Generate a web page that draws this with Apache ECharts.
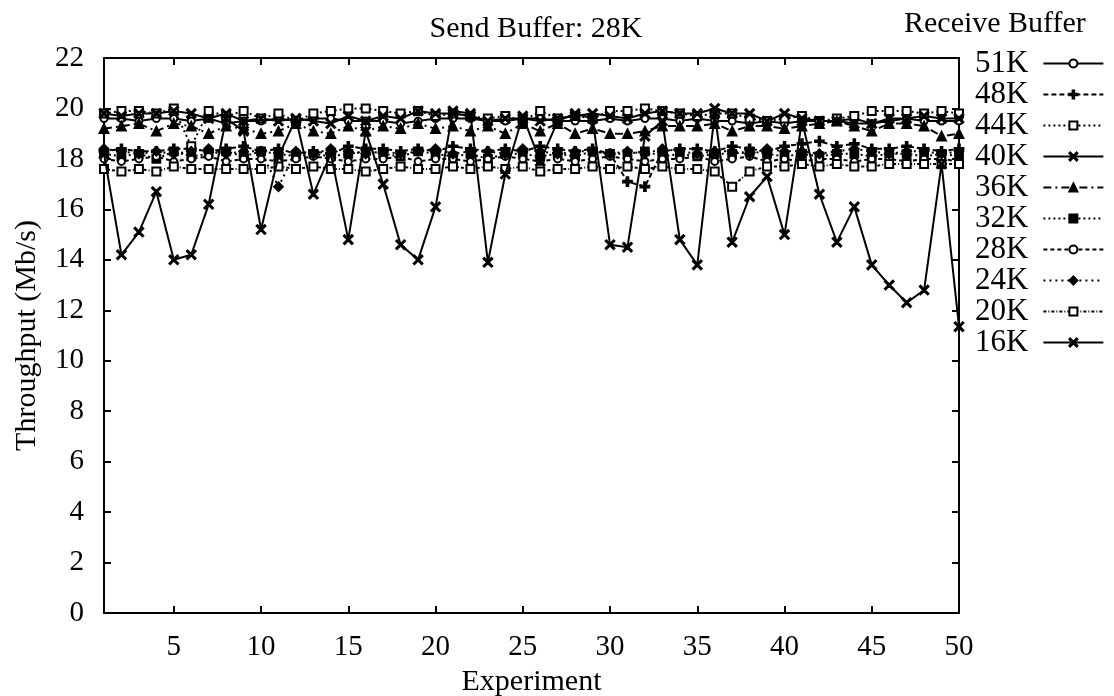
<!DOCTYPE html>
<html>
<head>
<meta charset="utf-8">
<script src="https://cdn.jsdelivr.net/npm/echarts@6/dist/echarts.min.js"></script>
<style>html,body{margin:0;padding:0;background:#fff}#c{width:1114px;height:696px}</style>
</head>
<body>
<div id="c"></div>
<script>
const experiments = Array.from({length: 50}, (_, i) => i + 1);
const xTickLabels = [5, 10, 15, 20, 25, 30, 35, 40, 45, 50];
const seriesNames = ['51K', '48K', '44K', '40K', '36K', '32K', '28K', '24K', '20K', '16K'];

const s51K = [19.6,19.6,19.5,19.6,19.6,19.5,19.6,19.4,19.5,19.5,19.6,19.5,19.6,19.6,19.5,19.5,19.5,19.4,19.5,19.6,19.6,19.6,19.5,19.5,19.6,19.6,19.5,19.5,19.5,19.6,19.5,19.6,19.6,19.5,19.6,19.5,19.5,19.4,19.5,19.4,19.5,19.5,19.5,19.6,19.4,19.5,19.6,19.5,19.5,19.5];
const s48K = [18.3,18.4,18.3,18.3,18.4,18.4,18.3,18.4,18.5,18.3,18.4,18.2,18.3,18.2,18.5,18.4,18.4,18.3,18.4,18.3,18.5,18.4,18.3,18.4,18.3,18.5,18.4,18.3,18.4,18.2,17.1,16.9,18.3,18.4,18.4,18.3,18.5,18.4,18.3,18.5,18.6,18.7,18.5,18.6,18.4,18.4,18.5,18.4,18.3,18.4];
const s44K = [19.8,19.9,19.9,19.8,20.0,18.5,19.9,19.7,19.9,19.6,19.8,19.5,19.8,19.9,20.0,20.0,19.9,19.8,19.9,19.7,19.8,19.7,19.6,19.7,19.5,19.9,19.6,19.7,19.6,19.9,19.9,20.0,19.9,19.8,19.7,19.8,19.8,19.6,19.5,19.6,19.7,19.5,19.6,19.7,19.9,19.9,19.9,19.8,19.9,19.8];
const s40K = [19.8,19.7,19.8,19.8,19.9,19.8,19.6,19.8,19.5,19.6,19.5,19.6,19.5,19.4,19.7,19.5,19.7,19.6,19.9,19.8,19.8,19.7,19.5,19.6,19.6,19.5,19.6,19.7,19.8,19.7,19.6,19.8,19.9,19.8,19.8,20.0,19.8,19.8,19.5,19.8,19.6,19.5,19.5,19.4,19.4,19.6,19.6,19.7,19.6,19.6];
const s36K = [19.2,19.3,19.4,19.1,19.4,19.3,19.0,19.3,19.2,19.0,19.1,19.4,19.1,19.0,19.3,19.1,19.3,19.2,19.4,19.2,19.3,19.1,19.3,19.0,19.4,19.1,19.4,19.0,19.2,19.0,19.0,19.1,19.3,19.3,19.3,19.4,19.1,19.3,19.3,19.2,19.3,19.4,19.5,19.3,19.1,19.4,19.4,19.3,18.9,19.0];
const s32K = [18.2,18.1,18.2,18.0,18.3,18.1,18.2,18.3,18.1,18.3,18.2,18.1,18.2,18.1,18.2,18.3,18.2,18.1,18.3,18.2,18.1,18.2,18.0,18.2,18.2,18.1,18.2,18.1,18.3,18.2,18.2,18.3,18.1,18.2,18.1,18.2,18.2,18.3,18.2,18.1,18.2,18.1,18.2,18.2,18.1,18.2,18.2,18.1,18.2,18.1];
const s28K = [18.0,17.9,18.0,18.1,17.9,18.0,18.1,17.9,18.0,18.0,17.9,18.0,18.1,18.0,17.9,18.0,18.0,18.1,17.9,18.0,18.0,17.9,18.0,18.1,18.0,17.9,18.0,17.9,18.0,18.1,18.0,17.9,18.0,18.0,18.1,17.9,18.0,18.1,17.9,18.0,17.9,18.0,18.0,17.9,18.0,18.0,17.9,18.0,18.0,17.9];
const s24K = [18.4,18.3,18.2,18.3,18.2,18.3,18.4,18.2,18.3,18.3,16.9,18.3,18.2,18.4,18.3,18.2,18.3,18.2,18.3,18.4,18.2,18.3,18.3,18.2,18.4,18.3,18.2,18.3,18.3,18.2,18.3,18.2,18.4,18.3,18.2,18.3,18.3,18.2,18.4,18.3,18.3,18.2,18.3,18.4,18.3,18.2,18.3,18.3,18.2,18.3];
const s20K = [17.6,17.5,17.6,17.5,17.7,17.6,17.6,17.6,17.6,17.6,17.7,17.6,17.7,17.6,17.6,17.5,17.6,17.7,17.6,17.6,17.7,17.6,17.7,17.6,17.7,17.5,17.6,17.6,17.7,17.6,17.7,17.6,17.7,17.6,17.6,17.5,16.9,17.5,17.7,17.7,17.8,17.7,17.8,17.7,17.7,17.8,17.8,17.8,17.8,17.8];
const s16K = [18.2,14.2,15.1,16.7,14.0,14.2,16.2,19.6,19.1,15.2,18.1,19.6,16.6,18.2,14.8,19.1,17.0,14.6,14.0,16.1,19.9,19.8,13.9,17.4,19.7,17.9,19.5,19.8,19.6,14.6,14.5,18.9,19.5,14.8,13.8,19.8,14.7,16.5,17.3,15.0,19.5,16.6,14.7,16.1,13.8,13.0,12.3,12.8,17.8,11.35];

const seriesValues = [s51K, s48K, s44K, s40K, s36K, s32K, s28K, s24K, s20K, s16K];

const FONT = 'Liberation Serif';
const PLUS = 'path://M4,0H6V4H10V6H6V10H4V6H0V4H4Z';
const CROSS = 'path://M1,0L5,4L9,0L10,1L6,5L10,9L9,10L5,6L1,10L0,9L4,5L0,1Z';
const styles = [
  {type: 'solid', symbol: 'emptyCircle', size: 7},
  {type: [5, 3], symbol: PLUS, size: 9},
  {type: [2, 3], symbol: 'emptyRect', size: 8},
  {type: 'solid', symbol: CROSS, size: 9},
  {type: [8, 4, 2, 4], symbol: 'triangle', size: 9},
  {type: [2, 3], symbol: 'rect', size: 8},
  {type: [4, 3], symbol: 'emptyCircle', size: 7},
  {type: [2, 4], symbol: 'diamond', size: 9},
  {type: [3, 2, 1, 2], symbol: 'emptyRect', size: 8},
  {type: 'solid', symbol: CROSS, size: 9}
];

const series = seriesNames.map((name, i) => ({
  name: name,
  type: 'line',
  data: experiments.map((x, j) => [x, seriesValues[i][j]]),
  symbol: styles[i].symbol,
  symbolSize: styles[i].size,
  showAllSymbol: true,
  lineStyle: {color: '#000', width: 2, type: styles[i].type},
  itemStyle: {color: '#000', borderColor: '#000', borderWidth: 1.8},
  emphasis: {disabled: true},
  animation: false,
  z: i === 9 ? 3 : 2
}));

const chart = echarts.init(document.getElementById('c'), null, {renderer: 'canvas'});
chart.setOption({
  backgroundColor: '#fff',
  animation: false,
  title: [
    {text: 'Send Buffer: 28K', left: 531, top: 9, textAlign: 'center',
     textStyle: {fontFamily: FONT, fontSize: 30, fontWeight: 'normal', color: '#000'}},
    {text: 'Receive Buffer', left: 899, top: 4,
     textStyle: {fontFamily: FONT, fontSize: 30, fontWeight: 'normal', color: '#000'}}
  ],
  legend: {
    orient: 'vertical',
    left: 970,
    top: 43,
    align: 'right',
    itemWidth: 60,
    itemHeight: 10,
    itemGap: 0,
    selectedMode: false,
    data: seriesNames,
    textStyle: {fontFamily: FONT, fontSize: 31, color: '#000', lineHeight: 30, padding: [0, 10, 0, 0]}
  },
  grid: {left: 104, right: 155, top: 58, bottom: 83, containLabel: false, outerBoundsMode: 'none'},
  xAxis: [
    {type: 'value', min: 1, max: 50,
     name: 'Experiment', nameLocation: 'middle', nameGap: 50,
     nameTextStyle: {fontFamily: FONT, fontSize: 30, color: '#000'},
     axisLine: {show: true, onZero: false, lineStyle: {color: '#000', width: 2}},
     axisTick: {show: true, inside: true, length: 7, customValues: xTickLabels, lineStyle: {color: '#000', width: 2}},
     axisLabel: {customValues: xTickLabels, fontFamily: FONT, fontSize: 29, color: '#000', margin: 20},
     splitLine: {show: false}},
    {type: 'value', min: 1, max: 50, position: 'top',
     axisLine: {show: true, onZero: false, lineStyle: {color: '#000', width: 2}},
     axisTick: {show: true, inside: true, length: 7, customValues: xTickLabels, lineStyle: {color: '#000', width: 2}},
     axisLabel: {show: false}, splitLine: {show: false}}
  ],
  yAxis: [
    {type: 'value', min: 0, max: 22, interval: 2,
     name: 'Throughput (Mb/s)', nameLocation: 'middle', nameGap: 62, nameRotate: 90,
     nameTextStyle: {fontFamily: FONT, fontSize: 30, color: '#000'},
     axisLine: {show: true, lineStyle: {color: '#000', width: 2}},
     axisTick: {show: true, inside: true, length: 7, lineStyle: {color: '#000', width: 2}},
     axisLabel: {fontFamily: FONT, fontSize: 29, color: '#000', margin: 20},
     splitLine: {show: false}},
    {type: 'value', min: 0, max: 22, interval: 2, position: 'right',
     axisLine: {show: true, lineStyle: {color: '#000', width: 2}},
     axisTick: {show: true, inside: true, length: 7, lineStyle: {color: '#000', width: 2}},
     axisLabel: {show: false}, splitLine: {show: false}}
  ],
  series: series
});
</script>
</body>
</html>
